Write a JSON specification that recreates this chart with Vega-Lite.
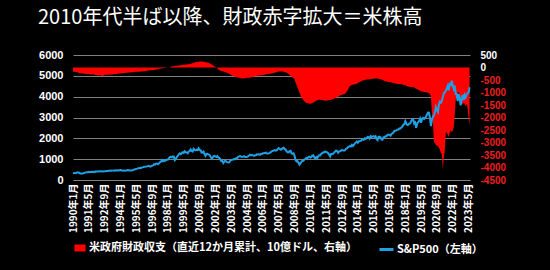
{
"$schema":"https://vega.github.io/schema/vega-lite/v6.json",
"autosize":"none",
"width":397,"height":125,
"padding":{"left":73,"top":55,"right":80,"bottom":90},
"background":"#000000",
"config":{"view":{"stroke":null},"font":"Noto Sans CJK JP"},
"title":{"text":"2010年代半ば以降、財政赤字拡大＝米株高","anchor":"start","frame":"group","dx":-35,"offset":21,"fontSize":20,"color":"#FFFFFF","font":"Noto Sans CJK JP","fontWeight":"normal"},
"data":{"values":[
{"d":"1990-01-01","s":329,"f":-160},{"d":"1990-02-01","s":332,"f":-170},{"d":"1990-03-01","s":340,"f":-180},{"d":"1990-04-01","s":331,"f":-170},{"d":"1990-05-01","s":361,"f":-190},{"d":"1990-06-01","s":358,"f":-200},{"d":"1990-07-01","s":356,"f":-210},{"d":"1990-08-01","s":323,"f":-230},{"d":"1990-09-01","s":306,"f":-221},{"d":"1990-10-01","s":304,"f":-230},{"d":"1990-11-01","s":322,"f":-240},{"d":"1990-12-01","s":330,"f":-250},
{"d":"1991-01-01","s":344,"f":-250},{"d":"1991-02-01","s":367,"f":-260},{"d":"1991-03-01","s":375,"f":-270},{"d":"1991-04-01","s":375,"f":-250},{"d":"1991-05-01","s":390,"f":-260},{"d":"1991-06-01","s":371,"f":-270},{"d":"1991-07-01","s":388,"f":-275},{"d":"1991-08-01","s":395,"f":-280},{"d":"1991-09-01","s":388,"f":-269},{"d":"1991-10-01","s":392,"f":-280},{"d":"1991-11-01","s":375,"f":-290},{"d":"1991-12-01","s":417,"f":-300},
{"d":"1992-01-01","s":409,"f":-300},{"d":"1992-02-01","s":413,"f":-310},{"d":"1992-03-01","s":404,"f":-320},{"d":"1992-04-01","s":415,"f":-310},{"d":"1992-05-01","s":415,"f":-320},{"d":"1992-06-01","s":408,"f":-330},{"d":"1992-07-01","s":424,"f":-330},{"d":"1992-08-01","s":414,"f":-320},{"d":"1992-09-01","s":418,"f":-290},{"d":"1992-10-01","s":419,"f":-290},{"d":"1992-11-01","s":431,"f":-290},{"d":"1992-12-01","s":436,"f":-290},
{"d":"1993-01-01","s":439,"f":-290},{"d":"1993-02-01","s":443,"f":-290},{"d":"1993-03-01","s":452,"f":-280},{"d":"1993-04-01","s":440,"f":-280},{"d":"1993-05-01","s":450,"f":-280},{"d":"1993-06-01","s":451,"f":-270},{"d":"1993-07-01","s":448,"f":-270},{"d":"1993-08-01","s":464,"f":-260},{"d":"1993-09-01","s":459,"f":-255},{"d":"1993-10-01","s":468,"f":-250},{"d":"1993-11-01","s":462,"f":-245},{"d":"1993-12-01","s":466,"f":-240},
{"d":"1994-01-01","s":482,"f":-235},{"d":"1994-02-01","s":467,"f":-230},{"d":"1994-03-01","s":446,"f":-225},{"d":"1994-04-01","s":451,"f":-220},{"d":"1994-05-01","s":457,"f":-215},{"d":"1994-06-01","s":444,"f":-210},{"d":"1994-07-01","s":458,"f":-210},{"d":"1994-08-01","s":475,"f":-205},{"d":"1994-09-01","s":463,"f":-203},{"d":"1994-10-01","s":472,"f":-200},{"d":"1994-11-01","s":454,"f":-195},{"d":"1994-12-01","s":459,"f":-190},
{"d":"1995-01-01","s":470,"f":-185},{"d":"1995-02-01","s":487,"f":-180},{"d":"1995-03-01","s":501,"f":-175},{"d":"1995-04-01","s":515,"f":-170},{"d":"1995-05-01","s":533,"f":-170},{"d":"1995-06-01","s":545,"f":-165},{"d":"1995-07-01","s":562,"f":-165},{"d":"1995-08-01","s":562,"f":-165},{"d":"1995-09-01","s":584,"f":-164},{"d":"1995-10-01","s":582,"f":-160},{"d":"1995-11-01","s":605,"f":-155},{"d":"1995-12-01","s":616,"f":-150},
{"d":"1996-01-01","s":636,"f":-145},{"d":"1996-02-01","s":640,"f":-140},{"d":"1996-03-01","s":646,"f":-135},{"d":"1996-04-01","s":654,"f":-125},{"d":"1996-05-01","s":669,"f":-120},{"d":"1996-06-01","s":671,"f":-115},{"d":"1996-07-01","s":640,"f":-112},{"d":"1996-08-01","s":652,"f":-110},{"d":"1996-09-01","s":687,"f":-107},{"d":"1996-10-01","s":705,"f":-100},{"d":"1996-11-01","s":757,"f":-95},{"d":"1996-12-01","s":741,"f":-90},
{"d":"1997-01-01","s":786,"f":-80},{"d":"1997-02-01","s":791,"f":-75},{"d":"1997-03-01","s":757,"f":-70},{"d":"1997-04-01","s":801,"f":-50},{"d":"1997-05-01","s":848,"f":-45},{"d":"1997-06-01","s":885,"f":-40},{"d":"1997-07-01","s":954,"f":-35},{"d":"1997-08-01","s":899,"f":-30},{"d":"1997-09-01","s":947,"f":-22},{"d":"1997-10-01","s":915,"f":-15},{"d":"1997-11-01","s":955,"f":-10},{"d":"1997-12-01","s":970,"f":-5},
{"d":"1998-01-01","s":980,"f":0},{"d":"1998-02-01","s":1049,"f":5},{"d":"1998-03-01","s":1102,"f":10},{"d":"1998-04-01","s":1112,"f":30},{"d":"1998-05-01","s":1091,"f":40},{"d":"1998-06-01","s":1134,"f":50},{"d":"1998-07-01","s":1121,"f":55},{"d":"1998-08-01","s":957,"f":60},{"d":"1998-09-01","s":1017,"f":69},{"d":"1998-10-01","s":1099,"f":75},{"d":"1998-11-01","s":1164,"f":80},{"d":"1998-12-01","s":1229,"f":85},
{"d":"1999-01-01","s":1280,"f":90},{"d":"1999-02-01","s":1238,"f":95},{"d":"1999-03-01","s":1286,"f":100},{"d":"1999-04-01","s":1335,"f":110},{"d":"1999-05-01","s":1302,"f":112},{"d":"1999-06-01","s":1373,"f":115},{"d":"1999-07-01","s":1329,"f":118},{"d":"1999-08-01","s":1320,"f":120},{"d":"1999-09-01","s":1283,"f":126},{"d":"1999-10-01","s":1363,"f":135},{"d":"1999-11-01","s":1389,"f":145},{"d":"1999-12-01","s":1469,"f":155},
{"d":"2000-01-01","s":1394,"f":165},{"d":"2000-02-01","s":1366,"f":175},{"d":"2000-03-01","s":1499,"f":185},{"d":"2000-04-01","s":1452,"f":200},{"d":"2000-05-01","s":1421,"f":210},{"d":"2000-06-01","s":1455,"f":220},{"d":"2000-07-01","s":1431,"f":225},{"d":"2000-08-01","s":1518,"f":230},{"d":"2000-09-01","s":1437,"f":236},{"d":"2000-10-01","s":1429,"f":240},{"d":"2000-11-01","s":1315,"f":240},{"d":"2000-12-01","s":1320,"f":235},
{"d":"2001-01-01","s":1366,"f":230},{"d":"2001-02-01","s":1240,"f":225},{"d":"2001-03-01","s":1160,"f":215},{"d":"2001-04-01","s":1249,"f":210},{"d":"2001-05-01","s":1256,"f":200},{"d":"2001-06-01","s":1224,"f":190},{"d":"2001-07-01","s":1211,"f":175},{"d":"2001-08-01","s":1134,"f":150},{"d":"2001-09-01","s":1041,"f":128},{"d":"2001-10-01","s":1060,"f":100},{"d":"2001-11-01","s":1139,"f":70},{"d":"2001-12-01","s":1148,"f":40},
{"d":"2002-01-01","s":1130,"f":20},{"d":"2002-02-01","s":1107,"f":0},{"d":"2002-03-01","s":1147,"f":-30},{"d":"2002-04-01","s":1077,"f":-80},{"d":"2002-05-01","s":1067,"f":-100},{"d":"2002-06-01","s":990,"f":-120},{"d":"2002-07-01","s":912,"f":-140},{"d":"2002-08-01","s":916,"f":-150},{"d":"2002-09-01","s":815,"f":-158},{"d":"2002-10-01","s":886,"f":-170},{"d":"2002-11-01","s":936,"f":-190},{"d":"2002-12-01","s":880,"f":-200},
{"d":"2003-01-01","s":856,"f":-210},{"d":"2003-02-01","s":841,"f":-230},{"d":"2003-03-01","s":848,"f":-250},{"d":"2003-04-01","s":917,"f":-280},{"d":"2003-05-01","s":964,"f":-300},{"d":"2003-06-01","s":975,"f":-320},{"d":"2003-07-01","s":990,"f":-340},{"d":"2003-08-01","s":1008,"f":-360},{"d":"2003-09-01","s":996,"f":-378},{"d":"2003-10-01","s":1051,"f":-390},{"d":"2003-11-01","s":1058,"f":-395},{"d":"2003-12-01","s":1112,"f":-400},
{"d":"2004-01-01","s":1131,"f":-410},{"d":"2004-02-01","s":1145,"f":-420},{"d":"2004-03-01","s":1126,"f":-430},{"d":"2004-04-01","s":1107,"f":-440},{"d":"2004-05-01","s":1121,"f":-440},{"d":"2004-06-01","s":1141,"f":-430},{"d":"2004-07-01","s":1102,"f":-425},{"d":"2004-08-01","s":1104,"f":-420},{"d":"2004-09-01","s":1115,"f":-413},{"d":"2004-10-01","s":1130,"f":-410},{"d":"2004-11-01","s":1174,"f":-405},{"d":"2004-12-01","s":1212,"f":-400},
{"d":"2005-01-01","s":1181,"f":-395},{"d":"2005-02-01","s":1204,"f":-390},{"d":"2005-03-01","s":1181,"f":-385},{"d":"2005-04-01","s":1157,"f":-360},{"d":"2005-05-01","s":1192,"f":-350},{"d":"2005-06-01","s":1191,"f":-340},{"d":"2005-07-01","s":1234,"f":-330},{"d":"2005-08-01","s":1220,"f":-320},{"d":"2005-09-01","s":1229,"f":-318},{"d":"2005-10-01","s":1207,"f":-315},{"d":"2005-11-01","s":1249,"f":-310},{"d":"2005-12-01","s":1248,"f":-305},
{"d":"2006-01-01","s":1280,"f":-300},{"d":"2006-02-01","s":1281,"f":-295},{"d":"2006-03-01","s":1295,"f":-290},{"d":"2006-04-01","s":1311,"f":-270},{"d":"2006-05-01","s":1270,"f":-265},{"d":"2006-06-01","s":1270,"f":-260},{"d":"2006-07-01","s":1277,"f":-255},{"d":"2006-08-01","s":1304,"f":-250},{"d":"2006-09-01","s":1336,"f":-248},{"d":"2006-10-01","s":1378,"f":-240},{"d":"2006-11-01","s":1401,"f":-230},{"d":"2006-12-01","s":1418,"f":-220},
{"d":"2007-01-01","s":1438,"f":-210},{"d":"2007-02-01","s":1407,"f":-200},{"d":"2007-03-01","s":1421,"f":-190},{"d":"2007-04-01","s":1482,"f":-165},{"d":"2007-05-01","s":1531,"f":-160},{"d":"2007-06-01","s":1503,"f":-155},{"d":"2007-07-01","s":1455,"f":-155},{"d":"2007-08-01","s":1474,"f":-158},{"d":"2007-09-01","s":1527,"f":-161},{"d":"2007-10-01","s":1549,"f":-170},{"d":"2007-11-01","s":1481,"f":-180},{"d":"2007-12-01","s":1468,"f":-190},
{"d":"2008-01-01","s":1379,"f":-210},{"d":"2008-02-01","s":1331,"f":-230},{"d":"2008-03-01","s":1323,"f":-260},{"d":"2008-04-01","s":1386,"f":-300},{"d":"2008-05-01","s":1400,"f":-330},{"d":"2008-06-01","s":1280,"f":-370},{"d":"2008-07-01","s":1267,"f":-400},{"d":"2008-08-01","s":1283,"f":-430},{"d":"2008-09-01","s":1165,"f":-459},{"d":"2008-10-01","s":969,"f":-600},{"d":"2008-11-01","s":896,"f":-700},{"d":"2008-12-01","s":903,"f":-800},
{"d":"2009-01-01","s":826,"f":-900},{"d":"2009-02-01","s":735,"f":-1000},{"d":"2009-03-01","s":798,"f":-1100},{"d":"2009-04-01","s":873,"f":-1200},{"d":"2009-05-01","s":919,"f":-1250},{"d":"2009-06-01","s":919,"f":-1300},{"d":"2009-07-01","s":987,"f":-1350},{"d":"2009-08-01","s":1021,"f":-1400},{"d":"2009-09-01","s":1057,"f":-1413},{"d":"2009-10-01","s":1036,"f":-1420},{"d":"2009-11-01","s":1096,"f":-1430},{"d":"2009-12-01","s":1115,"f":-1450},
{"d":"2010-01-01","s":1074,"f":-1450},{"d":"2010-02-01","s":1104,"f":-1440},{"d":"2010-03-01","s":1169,"f":-1420},{"d":"2010-04-01","s":1187,"f":-1400},{"d":"2010-05-01","s":1089,"f":-1380},{"d":"2010-06-01","s":1031,"f":-1350},{"d":"2010-07-01","s":1102,"f":-1330},{"d":"2010-08-01","s":1049,"f":-1310},{"d":"2010-09-01","s":1141,"f":-1294},{"d":"2010-10-01","s":1183,"f":-1290},{"d":"2010-11-01","s":1181,"f":-1290},{"d":"2010-12-01","s":1258,"f":-1300},
{"d":"2011-01-01","s":1286,"f":-1300},{"d":"2011-02-01","s":1327,"f":-1310},{"d":"2011-03-01","s":1326,"f":-1320},{"d":"2011-04-01","s":1364,"f":-1330},{"d":"2011-05-01","s":1345,"f":-1330},{"d":"2011-06-01","s":1321,"f":-1320},{"d":"2011-07-01","s":1292,"f":-1310},{"d":"2011-08-01","s":1219,"f":-1300},{"d":"2011-09-01","s":1131,"f":-1300},{"d":"2011-10-01","s":1253,"f":-1290},{"d":"2011-11-01","s":1247,"f":-1280},{"d":"2011-12-01","s":1258,"f":-1270},
{"d":"2012-01-01","s":1312,"f":-1250},{"d":"2012-02-01","s":1366,"f":-1230},{"d":"2012-03-01","s":1408,"f":-1210},{"d":"2012-04-01","s":1398,"f":-1190},{"d":"2012-05-01","s":1310,"f":-1170},{"d":"2012-06-01","s":1362,"f":-1150},{"d":"2012-07-01","s":1379,"f":-1120},{"d":"2012-08-01","s":1407,"f":-1100},{"d":"2012-09-01","s":1441,"f":-1087},{"d":"2012-10-01","s":1412,"f":-1080},{"d":"2012-11-01","s":1416,"f":-1070},{"d":"2012-12-01","s":1426,"f":-1060},
{"d":"2013-01-01","s":1498,"f":-1000},{"d":"2013-02-01","s":1515,"f":-950},{"d":"2013-03-01","s":1569,"f":-900},{"d":"2013-04-01","s":1598,"f":-800},{"d":"2013-05-01","s":1631,"f":-750},{"d":"2013-06-01","s":1606,"f":-720},{"d":"2013-07-01","s":1686,"f":-700},{"d":"2013-08-01","s":1633,"f":-690},{"d":"2013-09-01","s":1682,"f":-680},{"d":"2013-10-01","s":1757,"f":-670},{"d":"2013-11-01","s":1806,"f":-660},{"d":"2013-12-01","s":1848,"f":-650},
{"d":"2014-01-01","s":1783,"f":-620},{"d":"2014-02-01","s":1859,"f":-600},{"d":"2014-03-01","s":1872,"f":-580},{"d":"2014-04-01","s":1884,"f":-560},{"d":"2014-05-01","s":1924,"f":-540},{"d":"2014-06-01","s":1960,"f":-520},{"d":"2014-07-01","s":1931,"f":-510},{"d":"2014-08-01","s":2003,"f":-500},{"d":"2014-09-01","s":1972,"f":-485},{"d":"2014-10-01","s":2018,"f":-480},{"d":"2014-11-01","s":2068,"f":-475},{"d":"2014-12-01","s":2059,"f":-470},
{"d":"2015-01-01","s":1995,"f":-465},{"d":"2015-02-01","s":2105,"f":-460},{"d":"2015-03-01","s":2068,"f":-455},{"d":"2015-04-01","s":2086,"f":-450},{"d":"2015-05-01","s":2107,"f":-445},{"d":"2015-06-01","s":2063,"f":-440},{"d":"2015-07-01","s":2104,"f":-440},{"d":"2015-08-01","s":1972,"f":-440},{"d":"2015-09-01","s":1920,"f":-442},{"d":"2015-10-01","s":2079,"f":-450},{"d":"2015-11-01","s":2080,"f":-460},{"d":"2015-12-01","s":2044,"f":-470},
{"d":"2016-01-01","s":1940,"f":-480},{"d":"2016-02-01","s":1932,"f":-500},{"d":"2016-03-01","s":2060,"f":-520},{"d":"2016-04-01","s":2065,"f":-540},{"d":"2016-05-01","s":2097,"f":-550},{"d":"2016-06-01","s":2099,"f":-560},{"d":"2016-07-01","s":2174,"f":-570},{"d":"2016-08-01","s":2171,"f":-580},{"d":"2016-09-01","s":2168,"f":-585},{"d":"2016-10-01","s":2126,"f":-590},{"d":"2016-11-01","s":2199,"f":-600},{"d":"2016-12-01","s":2239,"f":-610},
{"d":"2017-01-01","s":2279,"f":-620},{"d":"2017-02-01","s":2364,"f":-630},{"d":"2017-03-01","s":2363,"f":-640},{"d":"2017-04-01","s":2384,"f":-650},{"d":"2017-05-01","s":2412,"f":-655},{"d":"2017-06-01","s":2423,"f":-660},{"d":"2017-07-01","s":2470,"f":-662},{"d":"2017-08-01","s":2472,"f":-665},{"d":"2017-09-01","s":2519,"f":-665},{"d":"2017-10-01","s":2575,"f":-670},{"d":"2017-11-01","s":2648,"f":-690},{"d":"2017-12-01","s":2674,"f":-700},
{"d":"2018-01-01","s":2824,"f":-710},{"d":"2018-02-01","s":2714,"f":-730},{"d":"2018-03-01","s":2641,"f":-750},{"d":"2018-04-01","s":2648,"f":-760},{"d":"2018-05-01","s":2705,"f":-770},{"d":"2018-06-01","s":2718,"f":-775},{"d":"2018-07-01","s":2816,"f":-778},{"d":"2018-08-01","s":2902,"f":-779},{"d":"2018-09-01","s":2914,"f":-779},{"d":"2018-10-01","s":2712,"f":-800},{"d":"2018-11-01","s":2760,"f":-830},{"d":"2018-12-01","s":2507,"f":-850},
{"d":"2019-01-01","s":2704,"f":-870},{"d":"2019-02-01","s":2784,"f":-890},{"d":"2019-03-01","s":2834,"f":-910},{"d":"2019-04-01","s":2946,"f":-930},{"d":"2019-05-01","s":2752,"f":-950},{"d":"2019-06-01","s":2942,"f":-960},{"d":"2019-07-01","s":2980,"f":-970},{"d":"2019-08-01","s":2926,"f":-980},{"d":"2019-09-01","s":2977,"f":-984},{"d":"2019-10-01","s":3038,"f":-990},{"d":"2019-11-01","s":3141,"f":-1000},{"d":"2019-12-01","s":3231,"f":-1010},
{"d":"2020-01-01","s":3226,"f":-1020},{"d":"2020-02-01","s":2954,"f":-1080},{"d":"2020-03-01","s":2585,"f":-1150},{"d":"2020-04-01","s":2912,"f":-1900},{"d":"2020-05-01","s":3044,"f":-2200},{"d":"2020-06-01","s":3100,"f":-3000},{"d":"2020-07-01","s":3271,"f":-3000},{"d":"2020-08-01","s":3500,"f":-3100},{"d":"2020-09-01","s":3363,"f":-3132},{"d":"2020-10-01","s":3270,"f":-3150},{"d":"2020-11-01","s":3622,"f":-3200},{"d":"2020-12-01","s":3756,"f":-3300},
{"d":"2021-01-01","s":3714,"f":-3400},{"d":"2021-02-01","s":3811,"f":-3500},{"d":"2021-03-01","s":3973,"f":-4050},{"d":"2021-04-01","s":4181,"f":-3600},{"d":"2021-05-01","s":4204,"f":-3300},{"d":"2021-06-01","s":4298,"f":-2600},{"d":"2021-07-01","s":4395,"f":-2600},{"d":"2021-08-01","s":4523,"f":-2700},{"d":"2021-09-01","s":4308,"f":-2775},{"d":"2021-10-01","s":4605,"f":-2600},{"d":"2021-11-01","s":4567,"f":-2500},{"d":"2021-12-01","s":4766,"f":-2600},
{"d":"2022-01-01","s":4516,"f":-2500},{"d":"2022-02-01","s":4374,"f":-2400},{"d":"2022-03-01","s":4530,"f":-1900},{"d":"2022-04-01","s":4132,"f":-1300},{"d":"2022-05-01","s":4132,"f":-1200},{"d":"2022-06-01","s":3785,"f":-1000},{"d":"2022-07-01","s":4130,"f":-1000},{"d":"2022-08-01","s":3955,"f":-1050},{"d":"2022-09-01","s":3586,"f":-1375},{"d":"2022-10-01","s":3872,"f":-1450},{"d":"2022-11-01","s":4080,"f":-1450},{"d":"2022-12-01","s":3840,"f":-1420},
{"d":"2023-01-01","s":4077,"f":-1450},{"d":"2023-02-01","s":3970,"f":-1550},{"d":"2023-03-01","s":4109,"f":-1450},{"d":"2023-04-01","s":4169,"f":-1600},{"d":"2023-05-01","s":4180,"f":-2000},{"d":"2023-06-01","s":4450,"f":-2300}
]},
"encoding":{
"x":{"field":"d","type":"temporal",
"scale":{"type":"utc","domain":[{"year":1990,"month":1,"date":1,"utc":true},{"year":2023,"month":6,"date":15,"utc":true}]},
"axis":{"title":null,"values":[
{"year":1990,"month":1,"date":1,"utc":true},{"year":1991,"month":5,"date":1,"utc":true},{"year":1992,"month":9,"date":1,"utc":true},{"year":1994,"month":1,"date":1,"utc":true},{"year":1995,"month":5,"date":1,"utc":true},{"year":1996,"month":9,"date":1,"utc":true},{"year":1998,"month":1,"date":1,"utc":true},{"year":1999,"month":5,"date":1,"utc":true},{"year":2000,"month":9,"date":1,"utc":true},{"year":2002,"month":1,"date":1,"utc":true},{"year":2003,"month":5,"date":1,"utc":true},{"year":2004,"month":9,"date":1,"utc":true},{"year":2006,"month":1,"date":1,"utc":true},{"year":2007,"month":5,"date":1,"utc":true},{"year":2008,"month":9,"date":1,"utc":true},{"year":2010,"month":1,"date":1,"utc":true},{"year":2011,"month":5,"date":1,"utc":true},{"year":2012,"month":9,"date":1,"utc":true},{"year":2014,"month":1,"date":1,"utc":true},{"year":2015,"month":5,"date":1,"utc":true},{"year":2016,"month":9,"date":1,"utc":true},{"year":2018,"month":1,"date":1,"utc":true},{"year":2019,"month":5,"date":1,"utc":true},{"year":2020,"month":9,"date":1,"utc":true},{"year":2022,"month":1,"date":1,"utc":true},{"year":2023,"month":5,"date":1,"utc":true}],
"labelExpr":"utcFormat(datum.value, '%Y年%-m月')","labelAngle":270,"labelAlign":"right","labelBaseline":"middle","labelColor":"#FFFFFF","labelFontSize":10,"labelFontWeight":"bold","labelFont":"Noto Sans CJK JP","grid":false,"ticks":false,"domain":true,"domainColor":"#808080","labelOverlap":false,"labelFlush":false,"labelBound":false,"labelPadding":3}}
},
"layer":[
{"mark":{"type":"area","opacity":1},
"encoding":{
"y":{"field":"f","type":"quantitative","scale":{"domain":[-4500,500],"nice":false,"zero":false},
"axis":{"orient":"right","title":null,"values":[500,0,-500,-1000,-1500,-2000,-2500,-3000,-3500,-4000,-4500],"labelExpr":"datum.value + ''","grid":false,"domain":false,"ticks":false,"labelPadding":10,"labelFontSize":10,"labelFontWeight":"bold","labelFont":"Liberation Sans","labelColor":{"condition":{"test":"datum.value < 0","value":"#F01E1E"},"value":"#FFFFFF"}}},
"y2":{"datum":0},
"fill":{"datum":"米政府財政収支（直近12か月累計、10億ドル、右軸）","type":"nominal","scale":{"range":["#FF0000"]},
"legend":{"title":null,"orient":"none","legendX":0,"legendY":186,"labelColor":"#FFFFFF","labelFontSize":11,"labelFont":"Noto Sans CJK JP","labelFontWeight":"bold","labelLimit":400,"labelOffset":2,"symbolSize":196,"symbolType":"M-0.8,-0.5H0.8V0.5H-0.8Z","symbolOpacity":1,"symbolStrokeWidth":0}}
}},
{"mark":{"type":"line","strokeWidth":2},
"encoding":{
"y":{"field":"s","type":"quantitative","scale":{"domain":[0,6000],"nice":false},
"axis":{"orient":"left","title":null,"values":[0,1000,2000,3000,4000,5000,6000],"format":"d","grid":true,"gridColor":"#808080","gridWidth":1,"domain":false,"ticks":false,"labelPadding":10,"labelFontSize":11,"labelFontWeight":"bold","labelFont":"Liberation Sans","labelColor":"#FFFFFF"}},
"stroke":{"datum":"S&P500（左軸）","type":"nominal","scale":{"range":["#1EA0E6"]},
"legend":{"title":null,"orient":"none","legendX":305,"legendY":186,"labelColor":"#FFFFFF","labelFontSize":11,"labelFont":"Noto Sans CJK JP","labelFontWeight":"bold","labelLimit":400,"labelOffset":2,"symbolSize":196,"symbolType":"stroke","symbolStrokeWidth":3}}
}}
],
"resolve":{"scale":{"y":"independent"}}
}
